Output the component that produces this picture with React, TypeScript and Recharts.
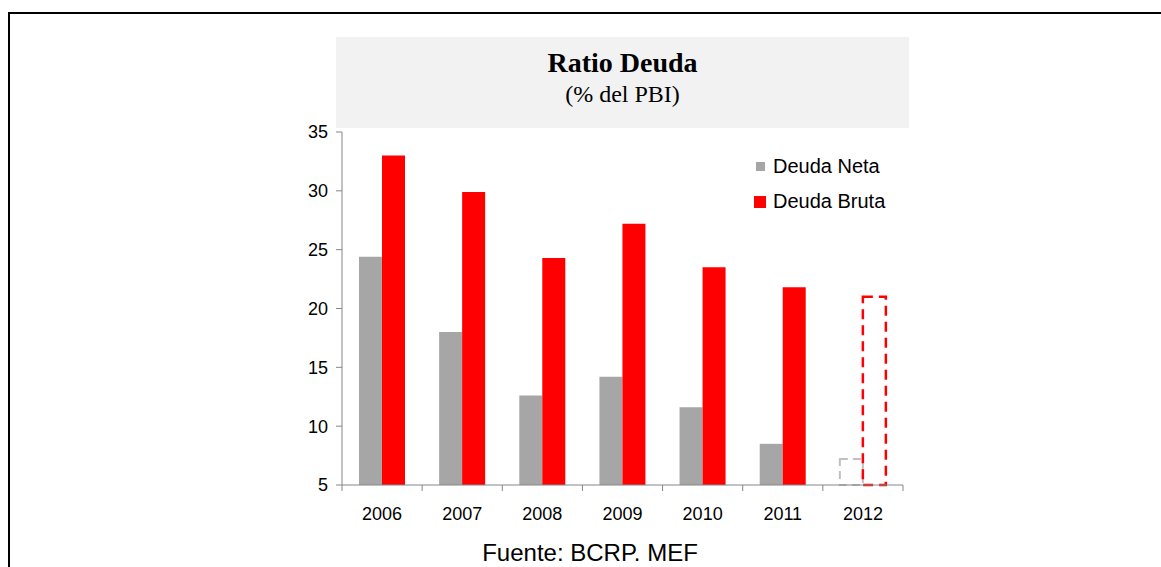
import React from "react";
import { BarChart, Bar, XAxis, YAxis, Cell } from "recharts";

const years = ["2006", "2007", "2008", "2009", "2010", "2011", "2012"];
const deudaNeta = [24.4, 18.0, 12.6, 14.2, 11.6, 8.5, 7.2];
const deudaBruta = [33.0, 29.9, 24.3, 27.2, 23.5, 21.8, 21.0];
// 2012 is a projection, drawn as dashed outlines
const proyectado = [false, false, false, false, false, false, true];
const yTicks = [5, 10, 15, 20, 25, 30, 35];
const seriesNames = ["Deuda Neta", "Deuda Bruta"];
const seriesColors = ["#A6A6A6", "#FF0000"];

const data = years.map((year, i) => ({
  year,
  neta: deudaNeta[i],
  bruta: deudaBruta[i],
}));

const PLOT_LEFT = 342;
const PLOT_RIGHT = 903;
const BAND = (PLOT_RIGHT - PLOT_LEFT) / years.length;
const AXIS_COLOR = "#868686";
const SANS = "'Liberation Sans', Arial, sans-serif";

function XTick(props: any) {
  const { x, y, payload, index } = props;
  return (
    <g>
      <line x1={x - BAND / 2} x2={x - BAND / 2} y1={y} y2={y + 6} stroke={AXIS_COLOR} />
      {index === years.length - 1 && (
        <line x1={x + BAND / 2} x2={x + BAND / 2} y1={y} y2={y + 6} stroke={AXIS_COLOR} />
      )}
      <text x={x} y={y + 35} textAnchor="middle" fontSize={18} fontFamily={SANS} fill="#000">
        {payload.value}
      </text>
    </g>
  );
}

export default function App() {
  return (
    <div
      style={{
        position: "absolute",
        left: 0,
        top: 0,
        width: 1161,
        height: 567,
        overflow: "hidden",
        background: "#fff",
      }}
    >
      <div
        style={{
          position: "absolute",
          left: 8,
          top: 12,
          width: 1300,
          height: 700,
          border: "2px solid #000",
        }}
      />
      <div
        style={{
          position: "absolute",
          left: 336,
          top: 37,
          width: 573,
          height: 91,
          background: "#F2F2F2",
          textAlign: "center",
          fontFamily: "'Liberation Serif', serif",
          color: "#000",
          lineHeight: 1.15,
        }}
      >
        <div style={{ fontWeight: "bold", fontSize: 28, marginTop: 10 }}>Ratio Deuda</div>
        <div style={{ fontSize: 24, marginTop: 2 }}>(% del PBI)</div>
      </div>
      <div style={{ position: "absolute", left: 0, top: 0 }}>
        <BarChart
          width={1161}
          height={567}
          data={data}
          margin={{ top: 132, right: 1161 - PLOT_RIGHT, bottom: 52, left: PLOT_LEFT - 40 }}
          barGap={0}
          barSize={23}
        >
          <XAxis
            dataKey="year"
            height={30}
            stroke={AXIS_COLOR}
            tickLine={false}
            tickSize={0}
            tickMargin={0}
            tick={<XTick />}
            interval={0}
          />
          <YAxis
            width={40}
            domain={[5, 35]}
            ticks={yTicks}
            stroke={AXIS_COLOR}
            tickSize={6}
            tickMargin={8}
            tick={{ fontSize: 18, fill: "#000", fontFamily: SANS }}
          />
          <Bar dataKey="neta" name={seriesNames[0]} fill={seriesColors[0]} isAnimationActive={false}>
            {data.map((d, i) =>
              proyectado[i] ? (
                <Cell key={d.year} fill="none" stroke="#C0C0C0" strokeWidth={2} strokeDasharray="8 5" />
              ) : (
                <Cell key={d.year} fill={seriesColors[0]} />
              )
            )}
          </Bar>
          <Bar dataKey="bruta" name={seriesNames[1]} fill={seriesColors[1]} isAnimationActive={false}>
            {data.map((d, i) =>
              proyectado[i] ? (
                <Cell key={d.year} fill="none" stroke={seriesColors[1]} strokeWidth={2.5} strokeDasharray="10 6" />
              ) : (
                <Cell key={d.year} fill={seriesColors[1]} />
              )
            )}
          </Bar>
        </BarChart>
      </div>
      <div
        style={{
          position: "absolute",
          left: 752,
          top: 149,
          fontFamily: SANS,
          fontSize: 20,
          color: "#000",
        }}
      >
        {seriesNames.map((name, i) => (
          <div key={name} style={{ display: "flex", alignItems: "center", height: 35 }}>
            <span
              style={{
                display: "inline-block",
                width: i === 1 ? 12 : 9,
                height: i === 1 ? 12 : 9,
                marginLeft: i === 1 ? 2 : 4,
                marginRight: i === 1 ? 7 : 8,
                background: seriesColors[i],
              }}
            />
            {name}
          </div>
        ))}
      </div>
      <div
        style={{
          position: "absolute",
          left: 340,
          width: 500,
          top: 541,
          textAlign: "center",
          fontFamily: SANS,
          fontSize: 24,
          color: "#000",
          lineHeight: 1,
        }}
      >
        Fuente: BCRP. MEF
      </div>
    </div>
  );
}
